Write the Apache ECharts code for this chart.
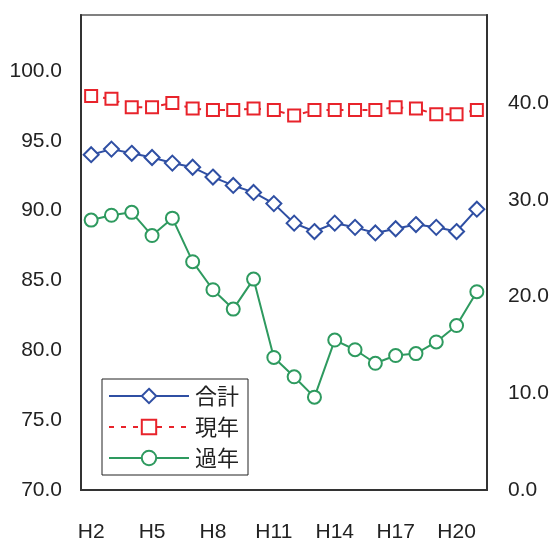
<!DOCTYPE html>
<html>
<head>
<meta charset="utf-8">
<script src="https://cdn.jsdelivr.net/npm/echarts@6/dist/echarts.min.js"></script>
<style>
  html, body { margin: 0; padding: 0; background: #fff; }
  #chart { width: 551px; height: 538px; }
</style>
</head>
<body>
<div id="chart"></div>
<script>
// Fiscal years (Heisei era)
const years = ['H2','H3','H4','H5','H6','H7','H8','H9','H10','H11',
               'H12','H13','H14','H15','H16','H17','H18','H19','H20','H21'];

// Collection rate (%) — total, left axis
const totalRate = [94.0, 94.4, 94.1, 93.8, 93.4, 93.1, 92.4, 91.8, 91.3, 90.5,
                   89.1, 88.5, 89.1, 88.8, 88.4, 88.7, 89.0, 88.8, 88.5, 90.1];
// Collection rate (%) — current year, left axis
const currentRate = [98.2, 98.0, 97.4, 97.4, 97.7, 97.3, 97.2, 97.2, 97.3, 97.2,
                     96.8, 97.2, 97.2, 97.2, 97.2, 97.4, 97.3, 96.9, 96.9, 97.2];
// Collection rate (%) — past years, right axis
const pastRate = [27.9, 28.4, 28.7, 26.3, 28.1, 23.6, 20.7, 18.7, 21.8, 13.7,
                  11.7, 9.6, 15.5, 14.5, 13.1, 13.9, 14.1, 15.3, 17.0, 20.5];

// Tick values
const leftTicks = [70, 75, 80, 85, 90, 95, 100];
const rightTicks = [0, 10, 20, 30, 40];

const labelFont = { fontFamily: '"Liberation Sans", Arial, sans-serif', fontSize: 21, color: '#222' };

const chart = echarts.init(document.getElementById('chart'), null, { renderer: 'canvas' });

chart.setOption({
  animation: false,
  backgroundColor: '#fff',
  grid: {
    left: 81, right: 64, top: 15, bottom: 48,
    outerBoundsMode: 'none', containLabel: false,
    show: true, borderColor: '#808080', borderWidth: 2, backgroundColor: 'transparent'
  },
  legend: {
    orient: 'vertical',
    left: 102, top: 379,
    padding: [6, 9, 6, 6],
    itemWidth: 80, itemHeight: 18, itemGap: 9,
    borderColor: '#222', borderWidth: 1,
    textStyle: { fontFamily: '"Noto Sans CJK JP", sans-serif', fontSize: 22, color: '#222', padding: [0, 0, 0, 1] },
    data: ['合計', '現年', '過年']
  },
  xAxis: {
    type: 'category',
    data: years,
    boundaryGap: true,
    axisLine: { lineStyle: { color: '#333', width: 2 } },
    axisTick: { inside: true, length: 8, interval: 0, lineStyle: { color: '#333', width: 1 } },
    axisLabel: Object.assign({ interval: 2, margin: 32 }, labelFont),
    splitLine: { show: false }
  },
  yAxis: [
    {
      type: 'value', min: 70, max: 104, position: 'left',
      axisLine: { show: true, lineStyle: { color: '#333', width: 2 } },
      axisTick: { inside: true, length: 8, customValues: leftTicks, lineStyle: { color: '#333' } },
      axisLabel: Object.assign({ margin: 19, customValues: leftTicks, formatter: v => v.toFixed(1) }, labelFont),
      splitLine: { show: false }
    },
    {
      type: 'value', min: 0, max: 49.1, position: 'right',
      axisLine: { show: true, lineStyle: { color: '#333', width: 2 } },
      axisTick: { inside: true, length: 8, customValues: rightTicks, lineStyle: { color: '#333' } },
      axisLabel: Object.assign({ margin: 21, customValues: rightTicks, formatter: v => v.toFixed(1) }, labelFont),
      splitLine: { show: false }
    }
  ],
  series: [
    {
      name: '合計', type: 'line', yAxisIndex: 0, data: totalRate,
      symbol: 'diamond', symbolSize: 15, showAllSymbol: true,
      lineStyle: { color: '#2f4fa3', width: 2 },
      itemStyle: { color: '#fff', borderColor: '#2f4fa3', borderWidth: 2 }
    },
    {
      name: '現年', type: 'line', yAxisIndex: 0, data: currentRate,
      symbol: 'rect', symbolSize: 12, showAllSymbol: true,
      lineStyle: { color: '#e8232b', width: 2, type: [5, 7] },
      itemStyle: { color: '#fff', borderColor: '#e8232b', borderWidth: 2 }
    },
    {
      name: '過年', type: 'line', yAxisIndex: 1, data: pastRate,
      symbol: 'circle', symbolSize: 13, showAllSymbol: true,
      lineStyle: { color: '#2e9a5f', width: 2 },
      itemStyle: { color: '#fff', borderColor: '#2e9a5f', borderWidth: 2 }
    }
  ]
});
</script>
</body>
</html>
